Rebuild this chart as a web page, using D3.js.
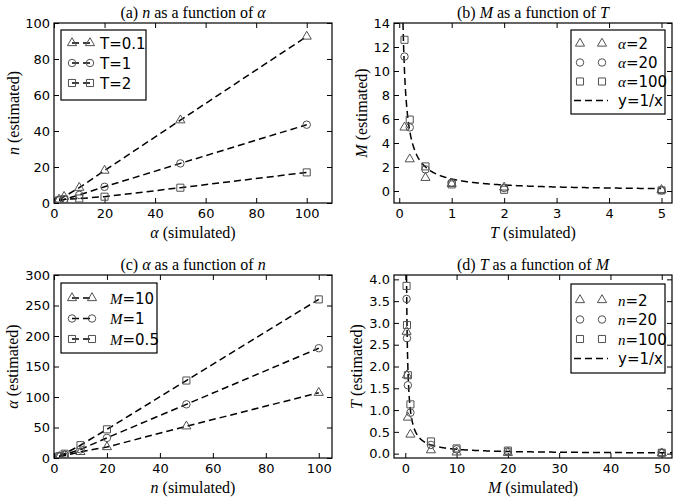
<!DOCTYPE html>
<html>
<head>
<meta charset="utf-8">
<script src="https://cdn.jsdelivr.net/npm/d3@7"></script>
<style>
body { margin: 0; background: #fff; }
text { fill: #000; }
</style>
</head>
<body>
<svg id="vis" width="678" height="499"></svg>
<script>
// (a) n as a function of alpha
var alphaSim = [2, 4, 10, 20, 50, 100];
var nT01 = [2, 3.5, 8.5, 18, 46, 92.5];
var nT1 = [1.5, 2, 4.5, 9, 22, 43.5];
var nT2 = [1.5, 2, 2.5, 3.5, 8.5, 17];

// (b) M as a function of T
var tSim = [0.1, 0.2, 0.5, 1, 2, 5];
var mA2 = [5.3, 2.65, 1.1, 0.6, 0.3, 0.1];
var mA20 = [11.2, 5.3, 1.8, 0.7, 0.25, 0.05];
var mA100 = [12.6, 5.95, 2.05, 0.55, 0.1, 0.05];

// (c) alpha as a function of n
var nSim = [2, 4, 10, 20, 50, 100];
var aM10 = [2, 4, 10, 18, 52, 107];
var aM1 = [2.5, 5.5, 14, 33, 88, 180];
var aM05 = [3, 7, 21, 47, 127, 260];

// (d) T as a function of M
var mSim = [0.25, 0.33, 0.5, 1, 5, 10, 20, 50];
var tN2 = [2.8, 1.8, 0.83, 0.44, 0.08, 0.03, 0.02, 0.01];
var tN20 = [3.55, 2.65, 1.57, 0.94, 0.2, 0.1, 0.05, 0.02];
var tN100 = [3.85, 2.95, 1.8, 1.13, 0.28, 0.12, 0.07, 0.02];

var svg = d3.select("#vis");
var markerColor = "#505050";
var sansFont = "DejaVu Sans, sans-serif";
var serifFont = "Liberation Serif, Times New Roman, serif";

var symbolFor = {
    tri: d3.symbol().type(d3.symbolTriangle).size(36),
    circ: d3.symbol().type(d3.symbolCircle).size(44),
    sq: d3.symbol().type(d3.symbolSquare).size(50)
};

// writes a label made of [text, isMath] parts
var richText = function(sel, parts, mathFont) {
    parts.forEach(function(p) {
        var t = sel.append("tspan").text(p[0]);
        if (p[1]) t.attr("font-family", mathFont || serifFont).attr("font-style", "italic");
    });
};

var drawPanel = function(cfg, idx) {
    var g = svg.append("g");
    var x = d3.scaleLinear().domain(cfg.xDomain).range([cfg.left, cfg.right]);
    var y = d3.scaleLinear().domain(cfg.yDomain).range([cfg.bottom, cfg.top]);

    var clipId = "clip" + idx;
    g.append("clipPath").attr("id", clipId)
        .append("rect")
        .attr("x", cfg.left).attr("y", cfg.top)
        .attr("width", cfg.right - cfg.left).attr("height", cfg.bottom - cfg.top);

    // axes, ticks pointing in on all four sides
    var axB = g.append("g").attr("transform", "translate(0," + cfg.bottom + ")")
        .call(d3.axisBottom(x).tickValues(cfg.xTicks).tickSizeInner(-5).tickSizeOuter(0).tickPadding(6).tickFormat(cfg.xFmt || d3.format("d")));
    var axT = g.append("g").attr("transform", "translate(0," + cfg.top + ")")
        .call(d3.axisTop(x).tickValues(cfg.xTicks).tickSizeInner(-5).tickSizeOuter(0).tickFormat(""));
    var axL = g.append("g").attr("transform", "translate(" + cfg.left + ",0)")
        .call(d3.axisLeft(y).tickValues(cfg.yTicks).tickSizeInner(-5).tickSizeOuter(0).tickPadding(4).tickFormat(cfg.yFmt || d3.format("d")));
    var axR = g.append("g").attr("transform", "translate(" + cfg.right + ",0)")
        .call(d3.axisRight(y).tickValues(cfg.yTicks).tickSizeInner(-5).tickSizeOuter(0).tickFormat(""));
    [axB, axT, axL, axR].forEach(function(a) {
        a.select(".domain").remove();
        a.selectAll(".tick line").attr("stroke", "#000");
        a.selectAll("text").attr("font-family", sansFont).attr("font-size", 13);
    });

    g.append("rect")
        .attr("x", cfg.left).attr("y", cfg.top)
        .attr("width", cfg.right - cfg.left).attr("height", cfg.bottom - cfg.top)
        .attr("fill", "none").attr("stroke", "#000").attr("stroke-width", 1.2);

    var plot = g.append("g").attr("clip-path", "url(#" + clipId + ")");
    var line = d3.line().x(d => x(d[0])).y(d => y(d[1]));

    // reference curve y = 1/x
    if (cfg.curve) {
        var cx = d3.range(1 / cfg.yDomain[1], cfg.curveEnd, 0.01);
        plot.append("path")
            .datum(cx.map(v => [v, 1 / v]))
            .attr("d", line)
            .attr("fill", "none").attr("stroke", "#000").attr("stroke-width", 1.5)
            .attr("stroke-dasharray", "7,4");
    }

    cfg.series.forEach(function(s) {
        var pts = cfg.xs.map((v, i) => [v, s.values[i]]);
        if (cfg.lines) {
            plot.append("path")
                .datum(pts)
                .attr("d", line)
                .attr("fill", "none").attr("stroke", "#000").attr("stroke-width", 1.5)
                .attr("stroke-dasharray", "7,4");
        }
        plot.selectAll(null)
            .data(pts)
            .enter()
            .append("path")
            .attr("transform", d => "translate(" + x(d[0]) + "," + y(d[1]) + ")")
            .attr("d", symbolFor[s.shape])
            .attr("fill", "none").attr("stroke", markerColor).attr("stroke-width", 1);
    });

    // title and axis labels
    var title = g.append("text")
        .attr("x", (cfg.left + cfg.right) / 2).attr("y", cfg.top - 5)
        .attr("text-anchor", "middle")
        .attr("font-family", serifFont).attr("font-size", 16);
    richText(title, cfg.title);

    var xl = g.append("text")
        .attr("x", (cfg.left + cfg.right) / 2).attr("y", cfg.bottom + 35)
        .attr("text-anchor", "middle")
        .attr("font-family", serifFont).attr("font-size", 16);
    richText(xl, cfg.xLabel);

    var yl = g.append("text")
        .attr("transform", "translate(" + cfg.yLabelX + "," + (cfg.top + cfg.bottom) / 2 + ") rotate(-90)")
        .attr("text-anchor", "middle")
        .attr("font-family", serifFont).attr("font-size", 16);
    richText(yl, cfg.yLabel);

    // legend
    var L = cfg.legend;
    g.append("rect")
        .attr("x", L.x).attr("y", L.y).attr("width", L.w).attr("height", L.h)
        .attr("fill", "#fff").attr("stroke", "#000").attr("stroke-width", 1.2);
    var entries = cfg.series.map(s => ({shape: s.shape, label: s.label}));
    if (cfg.curve) entries.push({shape: null, label: [["y=1/x", false]]});
    entries.forEach(function(e, i) {
        var ey = L.y + L.first + i * L.step;
        var m1 = L.x + L.m1, m2 = L.x + L.m2;
        if (cfg.lines || e.shape == null) {
            var x1 = e.shape == null ? m1 - 6 : m1;
            var x2 = e.shape == null ? m2 + 6 : m2;
            g.append("line")
                .attr("x1", x1).attr("x2", x2).attr("y1", ey).attr("y2", ey)
                .attr("stroke", "#000").attr("stroke-width", 1.5)
                .attr("stroke-dasharray", "7,4");
        }
        if (e.shape) {
            [m1, m2].forEach(function(mx) {
                g.append("path")
                    .attr("transform", "translate(" + mx + "," + ey + ")")
                    .attr("d", symbolFor[e.shape])
                    .attr("fill", "none").attr("stroke", markerColor).attr("stroke-width", 1);
            });
        }
        var t = g.append("text")
            .attr("x", L.x + L.tx).attr("y", ey + 5.5)
            .attr("font-family", sansFont).attr("font-size", 15);
        richText(t, e.label);
    });
};

var panels = [
    {
        left: 54, right: 332, top: 23, bottom: 203,
        xDomain: [0, 110], yDomain: [0, 100],
        xTicks: [0, 20, 40, 60, 80, 100], yTicks: [0, 20, 40, 60, 80, 100],
        xs: alphaSim, lines: true,
        series: [
            {shape: "tri", values: nT01, label: [["T=0.1", false]]},
            {shape: "circ", values: nT1, label: [["T=1", false]]},
            {shape: "sq", values: nT2, label: [["T=2", false]]}
        ],
        title: [["(a) ", false], ["n", true], [" as a function of ", false], ["α", true]],
        xLabel: [["α", true], [" (simulated)", false]],
        yLabel: [["n", true], [" (estimated)", false]],
        yLabelX: 19,
        legend: {x: 61, y: 30, w: 85, h: 70, first: 13, step: 20, m1: 11, m2: 29, tx: 39}
    },
    {
        left: 394, right: 672, top: 23, bottom: 203,
        xDomain: [-0.1, 5.2], yDomain: [-1, 14],
        xTicks: [0, 1, 2, 3, 4, 5], yTicks: [0, 2, 4, 6, 8, 10, 12, 14],
        xs: tSim, lines: false, curve: true, curveEnd: 5,
        series: [
            {shape: "tri", values: mA2, label: [["α", true], ["=2", false]]},
            {shape: "circ", values: mA20, label: [["α", true], ["=20", false]]},
            {shape: "sq", values: mA100, label: [["α", true], ["=100", false]]}
        ],
        title: [["(b) ", false], ["M", true], [" as a function of ", false], ["T", true]],
        xLabel: [["T", true], [" (simulated)", false]],
        yLabel: [["M", true], [" (estimated)", false]],
        yLabelX: 367,
        legend: {x: 571, y: 30, w: 94, h: 84, first: 13.5, step: 19, m1: 9, m2: 31, tx: 47}
    },
    {
        left: 54, right: 332, top: 275, bottom: 458,
        xDomain: [0, 105], yDomain: [0, 300],
        xTicks: [0, 20, 40, 60, 80, 100], yTicks: [0, 50, 100, 150, 200, 250, 300],
        xs: nSim, lines: true,
        series: [
            {shape: "tri", values: aM10, label: [["M", true], ["=10", false]]},
            {shape: "circ", values: aM1, label: [["M", true], ["=1", false]]},
            {shape: "sq", values: aM05, label: [["M", true], ["=0.5", false]]}
        ],
        title: [["(c) ", false], ["α", true], [" as a function of ", false], ["n", true]],
        xLabel: [["n", true], [" (simulated)", false]],
        yLabel: [["α", true], [" (estimated)", false]],
        yLabelX: 18,
        legend: {x: 61, y: 283, w: 96, h: 70, first: 15, step: 20.5, m1: 11, m2: 31, tx: 49}
    },
    {
        left: 394, right: 672, top: 275, bottom: 458,
        xDomain: [-2.2, 52], yDomain: [-0.1, 4.1],
        xTicks: [0, 10, 20, 30, 40, 50], yTicks: [0, 0.5, 1, 1.5, 2, 2.5, 3, 3.5, 4],
        yFmt: d3.format(".1f"),
        xs: mSim, lines: false, curve: true, curveEnd: 52,
        series: [
            {shape: "tri", values: tN2, label: [["n", true], ["=2", false]]},
            {shape: "circ", values: tN20, label: [["n", true], ["=20", false]]},
            {shape: "sq", values: tN100, label: [["n", true], ["=100", false]]}
        ],
        title: [["(d) ", false], ["T", true], [" as a function of ", false], ["M", true]],
        xLabel: [["M", true], [" (simulated)", false]],
        yLabel: [["T", true], [" (estimated)", false]],
        yLabelX: 362,
        legend: {x: 571, y: 284, w: 94, h: 89, first: 16, step: 19.5, m1: 9, m2: 31, tx: 47}
    }
];

panels.forEach(drawPanel);
</script>
</body>
</html>
